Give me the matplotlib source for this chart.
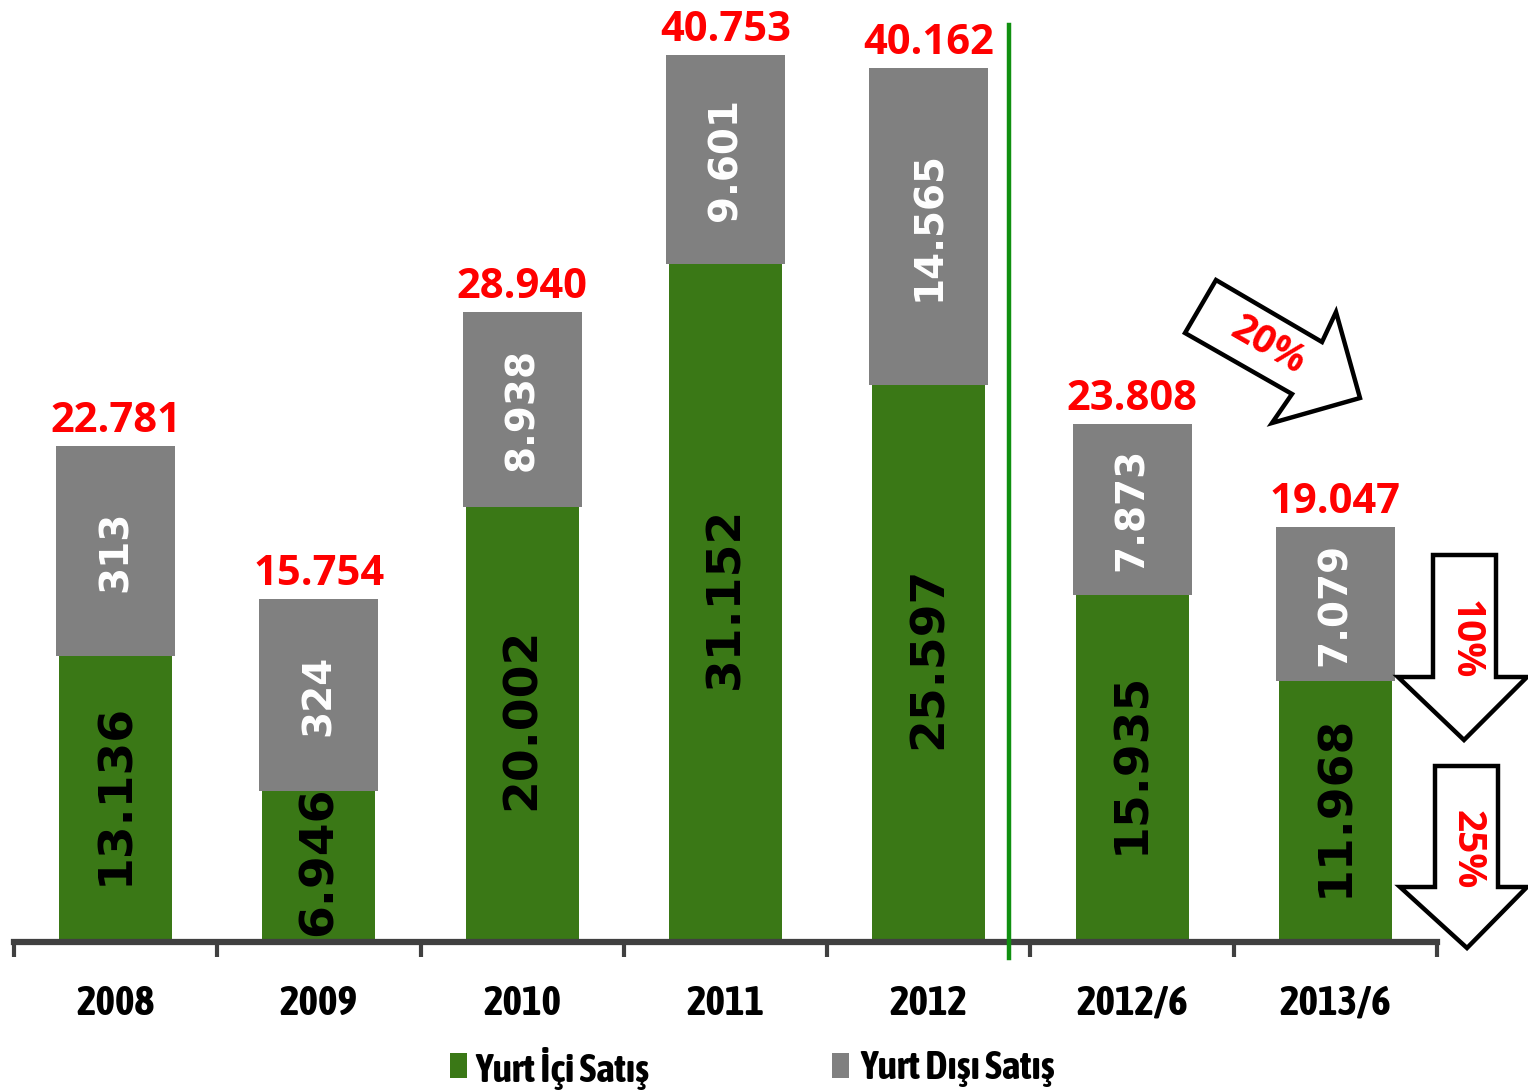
import numpy as np
import matplotlib
matplotlib.use("Agg")
import matplotlib.pyplot as plt
from matplotlib.patches import Polygon, Rectangle

categories = ["2008", "2009", "2010", "2011", "2012", "2012/6", "2013/6"]
domestic = [13136, 6946, 20002, 31152, 25597, 15935, 11968]
totals = [22781, 15754, 28940, 40753, 40162, 23808, 19047]
domestic_labels = ["13.136", "6.946", "20.002", "31.152", "25.597", "15.935", "11.968"]
export_labels = ["313", "324", "8.938", "9.601", "14.565", "7.873", "7.079"]
total_labels = ["22.781", "15.754", "28.940", "40.753", "40.162", "23.808", "19.047"]
legend_labels = ["Yurt İçi Satış", "Yurt Dışı Satış"]

GREEN = "#3a7816"
GREY = "#808080"
RED = "#ff0000"
NARROW = ["Asap Condensed", "DejaVu Sans"]
OPEN = ["Open Sans", "DejaVu Sans"]

W, H = 1528, 1091
fig = plt.figure(figsize=(W / 100, H / 100), dpi=100)
ax = fig.add_axes([14 / W, 1 - 942 / H, (1437 - 14) / W, (942 - 6) / H])

x = np.arange(len(categories))
upper = np.array(totals) - np.array(domestic)

ax.bar(x, domestic, width=0.556, color=GREEN, zorder=2)
ax.bar(x, upper, bottom=domestic, width=0.585, color=GREY, zorder=3)

for i in range(len(categories)):
    ax.text(x[i], domestic[i] / 2 + 250, domestic_labels[i], rotation=90,
            ha="center", va="center", fontsize=34, fontweight="bold",
            color="black", zorder=4)
    ax.text(x[i], domestic[i] + upper[i] / 2, export_labels[i], rotation=90,
            ha="center", va="center", fontsize=28, fontweight="bold",
            color="white", zorder=4)
    ax.annotate(total_labels[i], (x[i], totals[i]), xytext=(0, 3),
                textcoords="offset points", ha="center", va="bottom",
                fontsize=30, fontweight="bold", color=RED, family=OPEN)

ax.set_xlim(-0.5, len(categories) - 0.5)
ax.set_ylim(0, 43000)
for s in ["top", "right", "left"]:
    ax.spines[s].set_visible(False)
ax.spines["bottom"].set_color("#404040")
ax.spines["bottom"].set_linewidth(4.5)
ax.set_yticks([])
ax.set_xticks(np.arange(-0.5, len(categories), 1.0), minor=False)
ax.set_xticklabels([])
ax.tick_params(axis="x", which="major", length=11, width=3, color="#404040",
               direction="out")
ax.set_xticks(x, minor=True)
ax.set_xticklabels(categories, minor=True, fontsize=30, fontweight="bold",
                   family=NARROW)
ax.tick_params(axis="x", which="minor", length=0, pad=30)

# separator between yearly and half-year values
ax.plot([4.394, 4.394], [-735, 42131], color="#109010", lw=3.2,
        clip_on=False, zorder=5)


def px(pts):
    return [(a / W, 1 - b / H) for a, b in pts]


arrows = [
    ([(1216, 280), (1322, 342), (1336, 312), (1360, 398), (1272, 423),
      (1292, 394), (1185, 333)], "20%", (1268, 346), -30, 28),
    ([(1433, 555), (1496, 555), (1496, 677), (1527, 677), (1464, 740),
      (1398, 677), (1433, 677)], "10%", (1465, 640), -90, 28),
    ([(1435, 766), (1498, 766), (1498, 887), (1527, 887), (1467, 948),
      (1400, 887), (1435, 887)], "25%", (1467, 850), -90, 28),
]
for pts, txt, (tx, ty), rot, fs in arrows:
    fig.patches.append(Polygon(px(pts), closed=True, facecolor="white",
                               edgecolor="black", lw=3.2,
                               transform=fig.transFigure, zorder=6))
    fig.text(tx / W, 1 - ty / H, txt, rotation=rot, ha="center", va="center",
             fontsize=fs, fontweight="bold", color=RED, family=OPEN, zorder=7)

# legend
fig.patches.append(Rectangle((450 / W, 1 - 1078 / H), 17 / W, 25 / H,
                             facecolor=GREEN, transform=fig.transFigure))
fig.patches.append(Rectangle((832 / W, 1 - 1078 / H), 17 / W, 25 / H,
                             facecolor=GREY, transform=fig.transFigure))
fig.text(475 / W, 1 - 1068 / H, legend_labels[0], ha="left", va="center",
         fontsize=28.5, fontweight="bold", family=NARROW)
fig.text(860 / W, 1 - 1068 / H, legend_labels[1], ha="left", va="center",
         fontsize=28.5, fontweight="bold", family=NARROW)

fig.savefig("out.png", dpi=100)
